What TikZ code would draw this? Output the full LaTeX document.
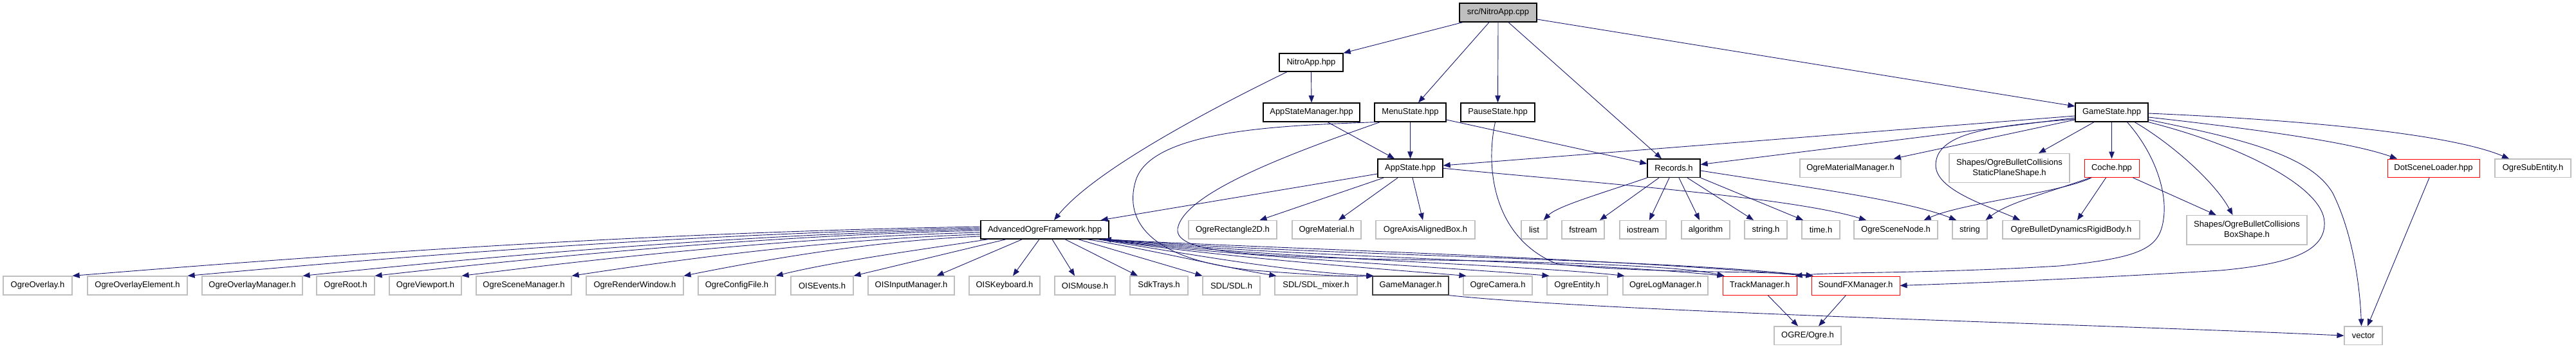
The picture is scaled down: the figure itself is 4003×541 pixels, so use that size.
\documentclass[tikz,border=0pt]{standalone}
\usepackage{fontspec}
\setmainfont{Liberation Sans}
\usetikzlibrary{arrows.meta}
\definecolor{edgec}{RGB}{25,25,112}
\definecolor{grayb}{RGB}{191,191,191}
\definecolor{redb}{RGB}{255,0,0}
\definecolor{darkb}{RGB}{64,64,64}
\newcommand{\bx}[7]{\node[#1, minimum width={#4-#3}, minimum height={#6-#5}] (#2) at ({(#3+#4)/2},{(#5+#6)/2}) {#7};}
\begin{document}
\begin{tikzpicture}[x=1pt,y=-1pt,
 box/.style={draw, rectangle, inner sep=0pt, line width=1pt, font=\fontsize{13}{16.5}\selectfont, align=center},
 gbox/.style={box, draw=grayb, line width=1.2pt},
 kbox/.style={box, draw=black, line width=1.3pt},
 rbox/.style={box, draw=redb},
 dbox/.style={box, draw=darkb, line width=1.3pt},
 rootbox/.style={box, draw=black, fill=grayb, line width=1.3pt},
 edge/.style={draw=edgec, line width=0.9pt, -{Triangle[length=11pt,width=8.5pt]}}]
\fill[white] (0,0) rectangle (4003,541);
\useasboundingbox (0,0) rectangle (4003,541);
% row 0-3
\bx{rootbox}{root}{2268}{2388}{5}{34}{src/NitroApp.cpp}
\bx{kbox}{nitroapp}{1988}{2087}{83}{111}{NitroApp.hpp}
\bx{kbox}{asm}{1963}{2113}{160}{189}{AppStateManager.hpp}
\bx{kbox}{menu}{2136}{2247}{160}{189}{MenuState.hpp}
\bx{kbox}{pause}{2270}{2385}{160}{189}{PauseState.hpp}
\bx{kbox}{gamestate}{3225}{3338}{160}{189}{GameState.hpp}
\bx{kbox}{appstate}{2141}{2242}{247}{275.5}{AppState.hpp}
\bx{kbox}{records}{2560}{2642}{247}{275.5}{Records.h}
\bx{gbox}{ogrematmgr}{2797}{2954}{247}{275.5}{OgreMaterialManager.h}
\bx{gbox}{staticplane}{3029}{3216}{238.5}{283.5}{Shapes/OgreBulletCollisions\\StaticPlaneShape.h}
\bx{rbox}{coche}{3239}{3324}{247}{275.5}{Coche.hpp}
\bx{rbox}{dotscene}{3710}{3853}{247}{275.5}{DotSceneLoader.hpp}
\bx{gbox}{subentity}{3877}{3995}{247}{275.5}{OgreSubEntity.h}
% row 4
\bx{kbox}{aof}{1524}{1723}{342.5}{371}{AdvancedOgreFramework.hpp}
\bx{gbox}{rect2d}{1847}{1984}{342.5}{371}{OgreRectangle2D.h}
\bx{gbox}{material}{2008}{2115}{342.5}{371}{OgreMaterial.h}
\bx{gbox}{aabb}{2138}{2292}{342.5}{371}{OgreAxisAlignedBox.h}
\bx{gbox}{list}{2364}{2404}{342.5}{371}{list}
\bx{gbox}{fstream}{2427}{2493}{342.5}{371}{fstream}
\bx{gbox}{iostream}{2517}{2589}{342.5}{371}{iostream}
\bx{gbox}{algorithm}{2613}{2688}{342.5}{371}{algorithm}
\bx{gbox}{stringh}{2711}{2777}{342.5}{371}{string.h}
\bx{gbox}{timeh}{2800}{2859}{342.5}{371}{time.h}
\bx{gbox}{scenenode}{2881}{3011}{342.5}{371}{OgreSceneNode.h}
\bx{gbox}{string}{3034}{3088}{342.5}{371}{string}
\bx{gbox}{rigidbody}{3112}{3325}{342.5}{371}{OgreBulletDynamicsRigidBody.h}
\bx{gbox}{boxshape}{3398}{3585}{334.5}{380}{Shapes/OgreBulletCollisions\\BoxShape.h}
% row 5
\bx{gbox}{overlay}{5}{112}{429}{458}{OgreOverlay.h}
\bx{gbox}{overlayelem}{136}{291}{429}{458}{OgreOverlayElement.h}
\bx{gbox}{overlaymgr}{314}{470}{429}{458}{OgreOverlayManager.h}
\bx{gbox}{rooth}{492}{582}{429}{458}{OgreRoot.h}
\bx{gbox}{viewport}{605}{717}{429}{458}{OgreViewport.h}
\bx{gbox}{scenemgr}{740}{888}{429}{458}{OgreSceneManager.h}
\bx{gbox}{renderwin}{911}{1062}{429}{458}{OgreRenderWindow.h}
\bx{gbox}{configfile}{1085}{1205}{429}{458}{OgreConfigFile.h}
\bx{gbox}{oisevents}{1229}{1326}{429}{458}{OISEvents.h}
\bx{gbox}{oisinput}{1349}{1483}{429}{458}{OISInputManager.h}
\bx{gbox}{oiskeyboard}{1506}{1616}{429}{458}{OISKeyboard.h}
\bx{gbox}{oismouse}{1639}{1733}{429}{458}{OISMouse.h}
\bx{gbox}{sdktrays}{1756}{1846}{429}{458}{SdkTrays.h}
\bx{gbox}{sdl}{1869}{1958}{429}{458}{SDL/SDL.h}
\bx{gbox}{sdlmixer}{1981}{2109}{429}{458}{SDL/SDL\_mixer.h}
\bx{dbox}{gamemgr}{2133}{2251}{429}{458}{GameManager.h}
\bx{gbox}{camera}{2274}{2381}{429}{458}{OgreCamera.h}
\bx{gbox}{entity}{2404}{2498}{429}{458}{OgreEntity.h}
\bx{gbox}{logmgr}{2522}{2654}{429}{458}{OgreLogManager.h}
\bx{rbox}{trackmgr}{2677}{2792}{429}{458}{TrackManager.h}
\bx{rbox}{soundfx}{2815}{2952}{429}{458}{SoundFXManager.h}
% row 6
\bx{gbox}{ogreh}{2757}{2861}{507}{535.5}{OGRE/Ogre.h}
\bx{gbox}{vector}{3643}{3702}{507}{535.5}{vector}
% ---- edges: root
\draw[edge] ([xshift=-55pt]root.south) -- (nitroapp.north east);
\draw[edge] ([xshift=-14pt]root.south) -- ([xshift=12.5pt]menu.north);
\draw[edge] (root.south) -- (pause.north);
\draw[edge] ([xshift=16pt]root.south) -- ([xshift=-19pt]records.north);
\draw[edge] ([yshift=-10.5pt]root.east) -- ([yshift=9.5pt]gamestate.west);
% nitroapp
\draw[edge] (nitroapp.south) -- (asm.north);
\draw[edge] ([xshift=-37.5pt]nitroapp.south) .. controls (1880,170) and (1700,265) .. ([xshift=14.5pt]aof.north);
% appstatemanager
\draw[edge] ([xshift=25pt]asm.south) -- ([xshift=-24.5pt]appstate.north);
% menu
\draw[edge] (menu.south) -- (appstate.north);
\draw[edge] ([yshift=-11.5pt]menu.east) -- ([yshift=7pt]records.west);
\draw[edge] ([xshift=-55pt]menu.south) .. controls (2000,195) and (1790,200) .. (1765,280) .. controls (1745,345) and (1790,405) .. (1950,420) .. controls (2040,427) and (2100,430) .. ([xshift=2pt]gamemgr.north west);
\draw[edge] ([xshift=-47pt]menu.south) .. controls (2000,240) and (1840,300) .. (1830,355) .. controls (1825,395) and (1950,400) .. (2300,405) .. controls (2500,410) and (2620,415) .. ([xshift=3pt]trackmgr.north west);
% pause
\draw[edge] ([xshift=-4pt]pause.south) .. controls (2308,260) and (2320,370) .. (2420,410) .. controls (2550,425) and (2750,420) .. ([xshift=3pt]soundfx.north west);
% appstate
\draw[edge] ([yshift=-8.75pt]appstate.west) -- ([xshift=-13pt]aof.north east);
\draw[edge] ([xshift=-41.5pt]appstate.south) -- ([xshift=42pt]rect2d.north);
\draw[edge] ([xshift=-19.5pt]appstate.south) -- ([xshift=18.5pt]material.north);
\draw[edge] ([xshift=3.5pt]appstate.south) -- ([xshift=-4pt]aabb.north);
\draw[edge] (appstate.east) .. controls (2450,282) and (2780,305) .. ([xshift=-46pt]scenenode.north);
% records
\draw[edge] (records.south west) .. controls (2490,300) and (2420,320) .. ([xshift=-6pt]list.north east);
\draw[edge] ([xshift=-23pt]records.south) -- ([xshift=26pt]fstream.north);
\draw[edge] ([xshift=-7pt]records.south) -- ([xshift=10pt]iostream.north);
\draw[edge] ([xshift=8pt]records.south) -- ([xshift=-9.5pt]algorithm.north);
\draw[edge] ([xshift=21pt]records.south) -- ([xshift=-19pt]stringh.north);
\draw[edge] (records.south east) -- ([xshift=-27.5pt]timeh.north);
\draw[edge] ([yshift=-3.75pt]records.east) .. controls (2800,290) and (2960,310) .. ([xshift=-21pt]string.north);
% gamestate
\draw[edge] ([yshift=-5.5pt]gamestate.west) -- ([yshift=4.25pt]appstate.east);
\draw[edge] ([yshift=-8.5pt]gamestate.west) -- ([yshift=5.75pt]records.east);
\draw[edge] ([yshift=-11.5pt]gamestate.west) -- ([xshift=-12pt]ogrematmgr.north east);
\draw[edge] ([xshift=-27.5pt]gamestate.south) -- ([xshift=45.5pt]staticplane.north);
\draw[edge] (gamestate.south) -- (coche.north);
\draw[edge] ([yshift=-10.5pt]gamestate.west) .. controls (3100,195) and (3010,205) .. (3008,255) .. controls (3006,295) and (3090,320) .. ([xshift=-79.5pt]rigidbody.north);
\draw[edge] ([xshift=35.5pt]gamestate.south) .. controls (3370,220) and (3440,280) .. ([xshift=-22pt]boxshape.north);
\draw[edge] ([yshift=-7.5pt]gamestate.east) .. controls (3500,200) and (3650,220) .. ([xshift=-56.5pt]dotscene.north);
\draw[edge] ([yshift=-1.5pt]gamestate.east) .. controls (3550,185) and (3800,205) .. ([xshift=-37pt]subentity.north);
\draw[edge] ([yshift=-11.5pt]gamestate.east) .. controls (3480,215) and (3590,240) .. (3625,300) .. controls (3655,360) and (3667,440) .. ([xshift=-3pt]vector.north);
\draw[edge] (gamestate.south east) .. controls (3480,225) and (3610,290) .. (3612,345) .. controls (3614,390) and (3560,410) .. (3450,420) .. controls (3200,435) and (3050,440) .. (soundfx.east);
\draw[edge] ([xshift=24pt]gamestate.south) .. controls (3350,240) and (3368,300) .. (3362,340) .. controls (3356,385) and (3330,400) .. (3200,413) .. controls (3000,425) and (2850,422) .. ([xshift=-3pt]trackmgr.north east);
% coche
\draw[edge] ([xshift=33pt]coche.south) -- ([xshift=-47.8pt]boxshape.north);
\draw[edge] ([xshift=-31.5pt]coche.south) .. controls (3200,300) and (3050,315) .. ([xshift=-22pt]scenenode.north east);
\draw[edge] ([xshift=-33.5pt]coche.south) .. controls (3180,300) and (3120,315) .. ([xshift=-3pt]string.north east);
\draw[edge] ([xshift=-9pt]coche.south) -- ([xshift=9.5pt]rigidbody.north);
% leaves
\draw[edge] ([xshift=12.5pt]trackmgr.south) -- ([xshift=-15pt]ogreh.north);
\draw[edge] ([xshift=-15pt]soundfx.south) -- ([xshift=17pt]ogreh.north);
\draw[edge] ([xshift=-6.5pt]dotscene.south) -- ([xshift=6.5pt]vector.north);
\draw[edge] (gamemgr.south east) .. controls (2500,485) and (3300,505) .. (vector.west);
% back edge into AOF
\draw[edge] ([xshift=-6pt]soundfx.north west) .. controls (2500,400) and (1950,385) .. ([xshift=-8pt]aof.south east);
% AOF left fan
\foreach \n/\sy/\ex in {overlay/352/112, overlayelem/354/291, overlaymgr/356/470, rooth/358/582, viewport/361/717, scenemgr/364/888, renderwin/367/1062}
  \draw[edge] ([yshift={356.75-\sy}]aof.west) .. controls ({1524-0.33*(1524-\ex)},{\sy+0.1*(429-\sy)}) and ({\ex+0.33*(1524-\ex)},{429-0.5*(429-\sy)}) .. (\n.north east);
\draw[edge] ([xshift=-88pt]aof.south) .. controls (1450,385) and (1300,405) .. (configfile.north east);
\draw[edge] ([xshift=-60pt]aof.south) -- (oisevents.north east);
\draw[edge] ([xshift=-35pt]aof.south) -- ([xshift=-28pt]oisinput.north east);
% AOF right
\draw[edge] ([xshift=-8.5pt]aof.south) -- ([xshift=13pt]oiskeyboard.north);
\draw[edge] ([xshift=11.5pt]aof.south) -- ([xshift=-16pt]oismouse.north);
\draw[edge] ([xshift=31.5pt]aof.south) -- ([xshift=-33pt]sdktrays.north);
\draw[edge] ([xshift=52pt]aof.south) -- (sdl.north west);
\draw[edge] ([xshift=66pt]aof.south) .. controls (1800,390) and (1900,415) .. ([xshift=3pt]sdlmixer.north west);
\draw[edge] ([xshift=-18pt]aof.south east) .. controls (1850,395) and (2000,422) .. ([xshift=2pt]gamemgr.north west);
\draw[edge] ([xshift=-13pt]aof.south east) .. controls (1900,400) and (2150,418) .. ([xshift=5pt]camera.north west);
\draw[edge] ([xshift=-10pt]aof.south east) .. controls (1900,398) and (2250,415) .. ([xshift=4pt]entity.north west);
\draw[edge] ([xshift=-7pt]aof.south east) .. controls (1950,400) and (2350,410) .. ([xshift=3pt]logmgr.north west);
\draw[edge] ([xshift=-4pt]aof.south east) .. controls (2000,400) and (2450,405) .. ([xshift=3pt]trackmgr.north west);
\draw[edge] ([xshift=-1pt]aof.south east) .. controls (2050,398) and (2550,400) .. ([xshift=3pt]soundfx.north west);
\end{tikzpicture}
\end{document}
